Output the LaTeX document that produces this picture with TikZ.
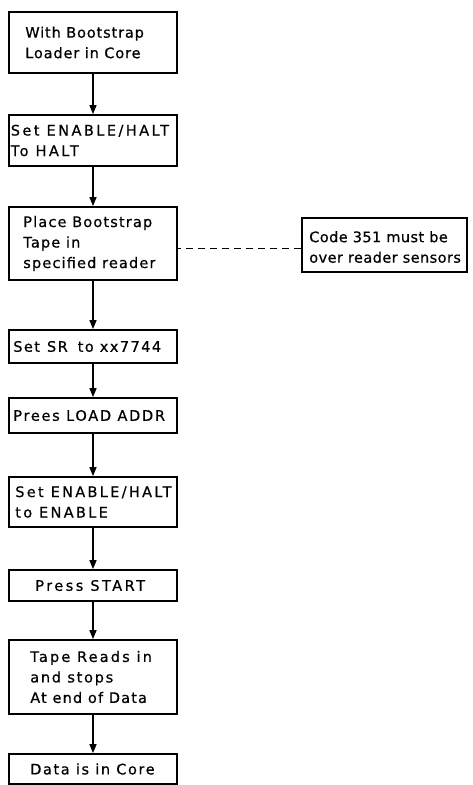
\documentclass[tikz,border=0pt]{standalone}
\usepackage{fontspec}
\setmainfont[LetterSpace=6,FakeBold=0.6]{DejaVu Sans}
\usetikzlibrary{arrows.meta,calc}
\newcommand\myls[2]{{\addfontfeature{LetterSpace=#1}#2}}
\begin{document}
\begin{tikzpicture}[x=1pt,y=-1pt,
  stepbox/.style={draw, line width=1.8pt, minimum width=168pt, inner sep=0pt},
  lbl/.style={anchor=west, align=left, inner sep=0pt, font=\fontsize{14.5pt}{20.5pt}\selectfont},
  flow/.style={line width=1.4pt, -{Triangle[width=7pt,length=9pt]}},
  link/.style={line width=1pt, dash pattern=on 7pt off 5pt}]
\useasboundingbox (0,0) rectangle (472,785);
\node[stepbox, minimum height=61pt] (b1) at (93,42.5) {};
\node[stepbox, minimum height=51pt] (b2) at (93,140.5) {};
\node[stepbox, minimum height=73pt] (b3) at (93,243.5) {};
\node[stepbox, minimum height=33pt] (b4) at (93,346.5) {};
\node[stepbox, minimum height=35pt] (b5) at (93,415.5) {};
\node[stepbox, minimum height=50pt] (b6) at (93,502) {};
\node[stepbox, minimum height=31pt] (b7) at (93,585.5) {};
\node[stepbox, minimum height=74pt] (b8) at (93,677) {};
\node[stepbox, minimum height=30pt] (b9) at (93,769) {};
\node[draw, line width=1.8pt, minimum width=165pt, minimum height=54pt, inner sep=0pt] (note) at (384.5,245) {};

\node[lbl] (t1) at ($(b1.west)+(17,0)$) {\myls{6}{With Bootstrap}\\\myls{6}{Loader in Core}};
\node[lbl] (t2) at ($(b2.west)+(2.5,0)$) {\myls{17}{Set ENABLE/HALT}\\\myls{17}{To HALT}};
\node[lbl] (t3) at ($(b3.west)+(15,0)$) {\myls{8}{Place Bootstrap}\\\myls{8}{Tape in}\\\myls{8}{specified reader}};
\node[lbl] (t4) at ($(b4.west)+(5,0)$) {\myls{10}{Set\hspace{7pt}SR\hspace{10pt}to xx7744}};
\node[lbl] (t5) at ($(b5.west)+(5,0)$) {\myls{12}{Prees LOAD ADDR}};
\node[lbl] (t6) at ($(b6.west)+(7,0)$) {\myls{16}{Set ENABLE/HALT}\\\myls{16}{to ENABLE}};
\node[lbl] (t7) at ($(b7.west)+(27,0)$) {\myls{17}{Press START}};
\node[lbl] (t8) at ($(b8.west)+(22,0)$) {\myls{15}{Tape Reads in}\\\myls{12}{and stops}\\\myls{8}{At end of Data}};
\node[lbl] (t9) at ($(b9.west)+(22,0)$) {\myls{11}{Data is in Core}};
\node[lbl] (tn) at ($(note.west)+(8,2)$) {\myls{3}{Code 351 must be}\\\myls{3}{over reader sensors}};

\draw[flow] (b1) -- (b2);
\draw[flow] (b2) -- (b3);
\draw[flow] (b3) -- (b4);
\draw[flow] (b4) -- (b5);
\draw[flow] (b5) -- (b6);
\draw[flow] (b6) -- (b7);
\draw[flow] (b7) -- (b8);
\draw[flow] (b8) -- (b9);
\coordinate (nw) at ($(note.west)+(0,3)$);
\draw[link] (nw) -- (nw -| b3.east);
\end{tikzpicture}
\end{document}
